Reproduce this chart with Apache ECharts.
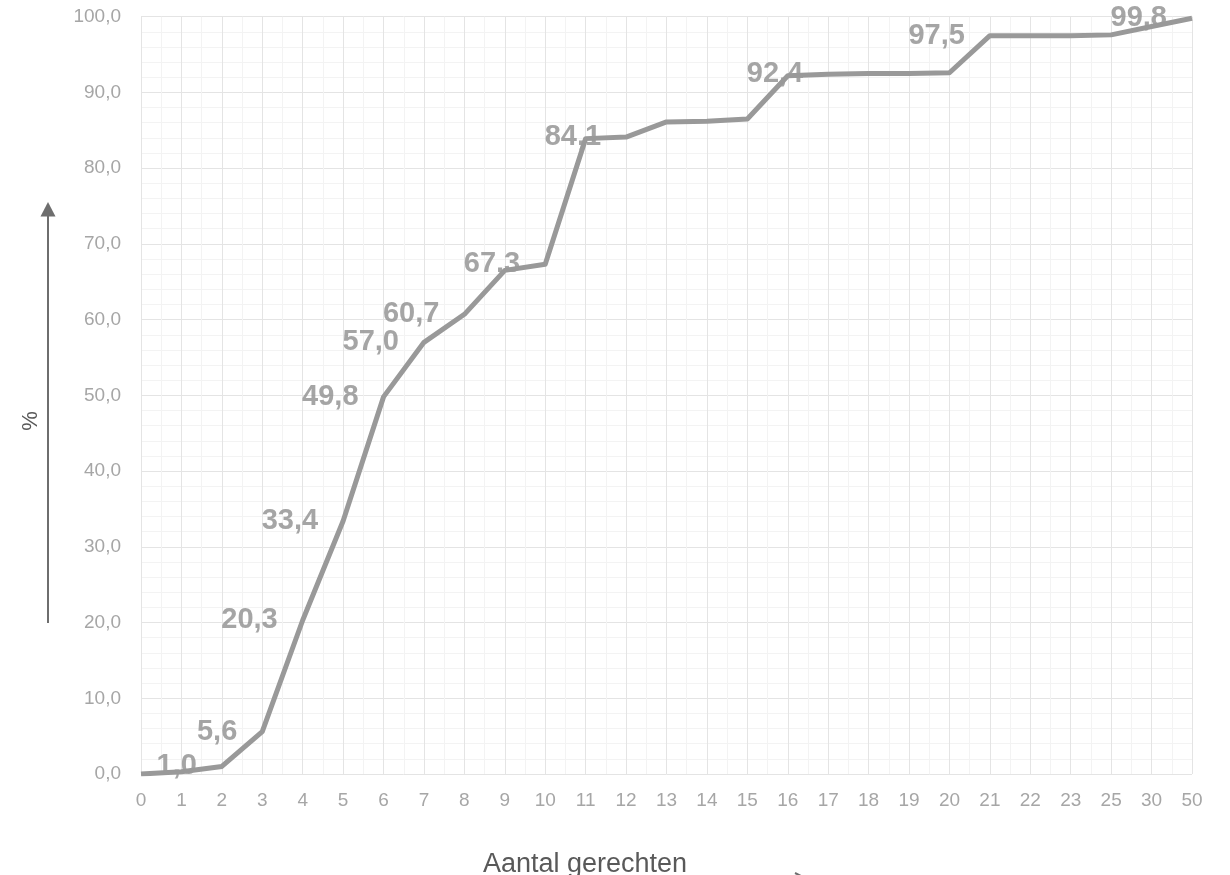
<!DOCTYPE html>
<html>
<head>
<meta charset="utf-8">
<script src="https://cdn.jsdelivr.net/npm/echarts@6/dist/echarts.min.js"></script>
<style>
  html, body { margin: 0; padding: 0; background: #ffffff; }
  #chart { width: 1230px; height: 875px; }
</style>
</head>
<body>
<div id="chart"></div>
<script>
// Categories: number of dishes (Aantal gerechten)
const categories = ['0','1','2','3','4','5','6','7','8','9','10','11','12','13','14','15','16','17','18','19','20','21','22','23','25','30','50'];
// Cumulative percentage
const values = [0.0, 0.3, 1.0, 5.6, 20.3, 33.4, 49.8, 57.0, 60.7, 66.5, 67.3, 83.9, 84.1, 86.1, 86.2, 86.5, 92.2, 92.4, 92.5, 92.5, 92.6, 97.5, 97.5, 97.5, 97.6, 98.7, 99.8];
// Categories whose value is shown as a data label
const labelledCategories = ['2','3','4','5','6','7','8','10','12','17','21','50'];
// Y axis ticks
const yMin = 0, yMax = 100, yInterval = 10;

const fmt = v => v.toFixed(1).replace('.', ',');

const labelData = categories.map((c, i) => ({
  value: values[i],
  label: { show: labelledCategories.includes(c) }
}));

const chart = echarts.init(document.getElementById('chart'), null, { renderer: 'canvas' });

chart.setOption({
  animation: false,
  backgroundColor: '#ffffff',
  textStyle: { fontFamily: 'Liberation Sans, Arial, sans-serif' },
  grid: { left: 141, right: 38, top: 16.7, bottom: 101, containLabel: false },
  xAxis: [
    {
      type: 'category',
      data: categories,
      boundaryGap: false,
      axisLine: { show: false },
      axisTick: { show: false },
      axisLabel: { color: '#a6a6a6', fontSize: 19, margin: 17, interval: 0, fontFamily: 'Liberation Sans, Arial, sans-serif' },
      splitLine: { show: true, lineStyle: { color: '#e4e4e4', width: 1 } },
      z: 2
    },
    {
      type: 'value',
      min: 0,
      max: categories.length - 1,
      interval: 1,
      show: true,
      position: 'bottom',
      axisLine: { show: false },
      axisTick: { show: false },
      axisLabel: { show: false },
      splitLine: { show: false },
      minorTick: { show: false, splitNumber: 2 },
      minorSplitLine: { show: true, lineStyle: { color: '#f3f3f3', width: 1 } },
      z: 1
    }
  ],
  yAxis: {
    type: 'value',
    min: yMin,
    max: yMax,
    interval: yInterval,
    axisLine: { show: false },
    axisTick: { show: false },
    axisLabel: { color: '#a6a6a6', fontSize: 19, margin: 20, formatter: v => fmt(v), fontFamily: 'Liberation Sans, Arial, sans-serif' },
    splitLine: { show: true, lineStyle: { color: '#e4e4e4', width: 1 } },
    minorTick: { show: false, splitNumber: 5 },
    minorSplitLine: { show: true, lineStyle: { color: '#f3f3f3', width: 1 } }
  },
  series: [
    {
      name: 'labels',
      type: 'scatter',
      xAxisIndex: 0,
      data: labelData,
      symbolSize: 0,
      silent: true,
      z: 3,
      label: {
        show: false,
        position: 'left',
        distance: 25,
        color: '#8f8f8f',
        fontSize: 29,
        fontWeight: 'bold',
        fontFamily: 'Liberation Sans, Arial, sans-serif',
        formatter: p => fmt(p.value)
      }
    },
    {
      name: '%',
      type: 'line',
      xAxisIndex: 0,
      data: values,
      showSymbol: false,
      symbol: 'none',
      z: 5,
      lineStyle: { color: '#999999', width: 5, join: 'round' }
    }
  ],
  graphic: [
    {
      type: 'line',
      shape: { x1: 48, y1: 623, x2: 48, y2: 214 },
      style: { stroke: '#6e6e6e', lineWidth: 2 }
    },
    {
      type: 'polygon',
      shape: { points: [[48, 202], [40.5, 216.5], [55.5, 216.5]] },
      style: { fill: '#6e6e6e' }
    },
    {
      type: 'text',
      x: 31, y: 421,
      rotation: Math.PI / 2,
      style: { text: '%', fill: '#595959', fontSize: 22, fontFamily: 'Liberation Sans, Arial, sans-serif', align: 'center', verticalAlign: 'middle' }
    },
    {
      type: 'text',
      x: 585, y: 865,
      style: { text: 'Aantal gerechten', fill: '#595959', fontSize: 27, fontFamily: 'Liberation Sans, Arial, sans-serif', align: 'center', verticalAlign: 'middle' }
    },
    {
      type: 'line',
      shape: { x1: 795, y1: 873, x2: 801, y2: 876 },
      style: { stroke: '#6e6e6e', lineWidth: 2 }
    }
  ]
});
</script>
</body>
</html>
